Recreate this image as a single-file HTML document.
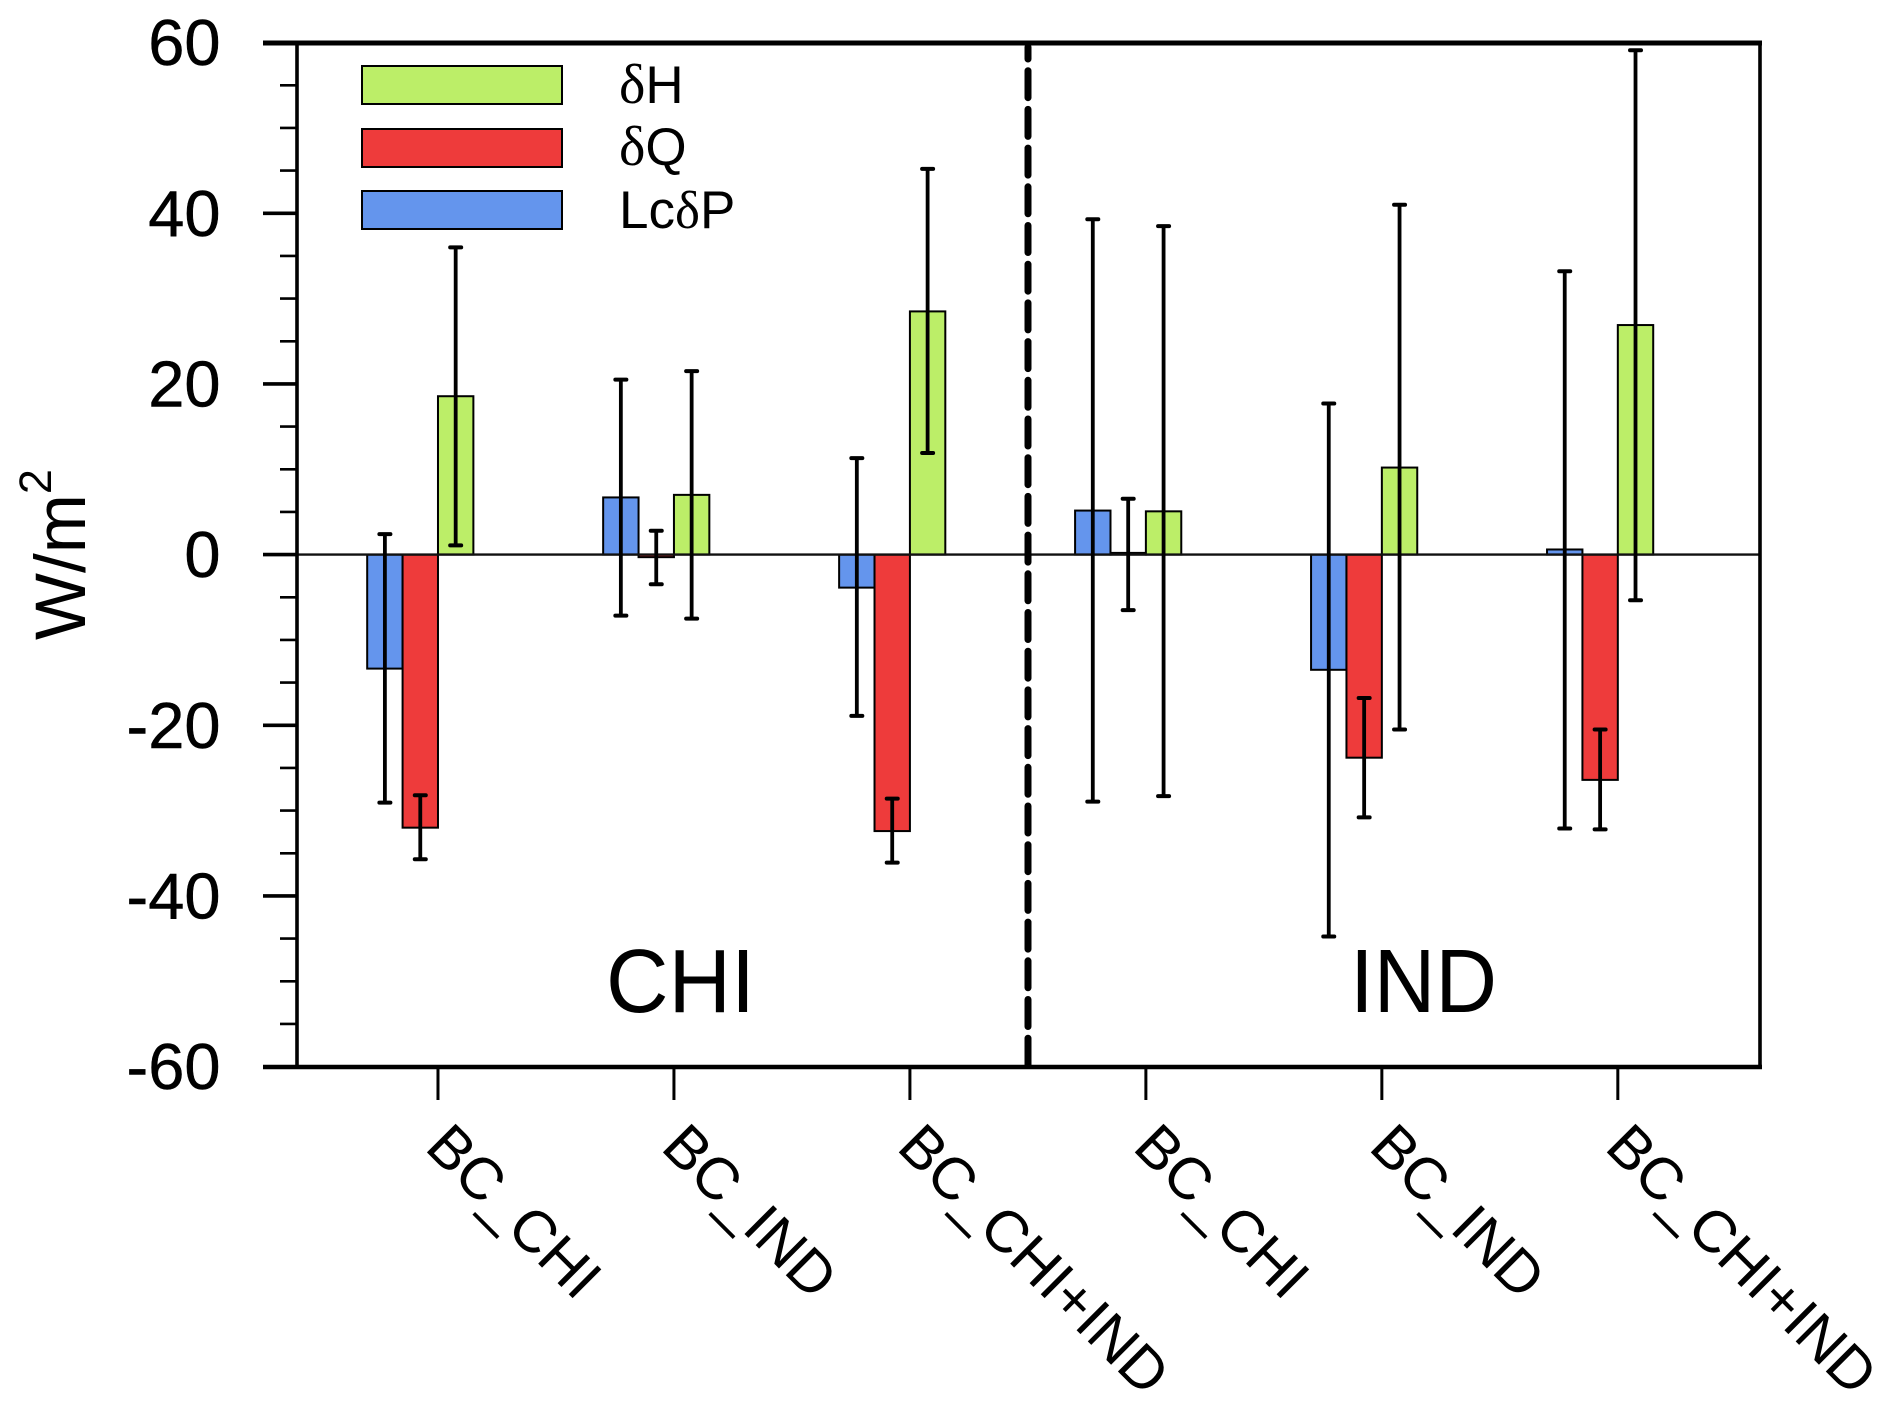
<!DOCTYPE html>
<html lang="en">
<head>
<meta charset="utf-8">
<title>Energy budget bar chart</title>
<style>
html,body{margin:0;padding:0;background:#fff;}
svg{display:block;}
text{font-family:"Liberation Sans",sans-serif;fill:#000;}
.sym{font-family:"Liberation Serif",serif;}
</style>
</head>
<body>
<svg id="chart" xmlns="http://www.w3.org/2000/svg" width="1892" height="1409" viewBox="0 0 1892 1409">
<rect x="0" y="0" width="1892" height="1409" fill="#fff"/>
<g id="bars"></g>
<line x1="297" y1="554.6" x2="1760" y2="554.6" stroke="#111" stroke-width="2.4"/>
<g id="errors"></g>
<g id="axes"></g>
<line x1="1028" y1="47" x2="1028" y2="1065" stroke="#000" stroke-width="7" stroke-dasharray="27 11.7" stroke-dashoffset="15" stroke-linecap="round"/>
<text transform="translate(85,640) rotate(-90)" font-size="71">W/m<tspan font-size="45" dy="-34">2</tspan></text>
<g>
  <rect x="362" y="66" width="200" height="38" fill="#BCEE68" stroke="#000" stroke-width="2"/>
  <rect x="362" y="129" width="200" height="38" fill="#EE3B3B" stroke="#000" stroke-width="2"/>
  <rect x="362" y="191" width="200" height="38" fill="#6495ED" stroke="#000" stroke-width="2"/>
  <text x="619" y="103" font-size="53"><tspan class="sym" font-size="56">δ</tspan>H</text>
  <text x="619" y="165" font-size="53"><tspan class="sym" font-size="56">δ</tspan>Q</text>
  <text x="619" y="228" font-size="53">Lc<tspan class="sym">δ</tspan>P</text>
</g>
<text x="606" y="1012" font-size="90" textLength="149" lengthAdjust="spacingAndGlyphs">CHI</text>
<text x="1350" y="1012" font-size="90" textLength="147" lengthAdjust="spacingAndGlyphs">IND</text>
</svg>
<script>
const categories = ["BC_CHI", "BC_IND", "BC_CHI+IND", "BC_CHI", "BC_IND", "BC_CHI+IND"];
const lcdpValues = [-13.36, 6.7, -3.87, 5.16, -13.5, 0.6];
const dqValues = [-32.0, -0.3, -32.4, 0.2, -23.8, -26.4];
const dhValues = [18.56, 7.0, 28.5, 5.07, 10.2, 26.9];
const lcdpErrHigh = [2.4, 20.5, 11.3, 39.3, 17.7, 33.2];
const lcdpErrLow = [-29.06, -7.15, -18.9, -28.95, -44.75, -32.1];
const dqErrHigh = [-28.2, 2.8, -28.6, 6.55, -16.8, -20.5];
const dqErrLow = [-35.7, -3.48, -36.1, -6.5, -30.8, -32.2];
const dhErrHigh = [36.0, 21.5, 45.2, 38.5, 41.0, 59.1];
const dhErrLow = [1.08, -7.5, 11.9, -28.3, -20.5, -5.35];
const yTickLabels = [60, 40, 20, 0, -20, -40, -60];
const yMinorTicks = [55, 50, 45, 35, 30, 25, 15, 10, 5, -5, -10, -15, -25, -30, -35, -45, -50, -55];

const NS = 'http://www.w3.org/2000/svg';
const plot = { left: 297, right: 1760, top: 43, bottom: 1067 };
const yScale = v => 554.6 - v * (plot.bottom - plot.top) / 120;
const xScale = i => plot.left - 0.6 + (i + 0.6) * (plot.right - plot.left) / 6.2;
const barWidth = 0.15 * (plot.right - plot.left) / 6.2;

function make(tag, parent, attrs) {
  const el = document.createElementNS(NS, tag);
  for (const k in attrs) el.setAttribute(k, attrs[k]);
  parent.appendChild(el);
  return el;
}

const barsG = document.getElementById('bars');
const errG = document.getElementById('errors');
const axesG = document.getElementById('axes');

const series = [
  { key: 'lcdp', vals: lcdpValues, hi: lcdpErrHigh, lo: lcdpErrLow, color: '#6495ED', off: -1.5 },
  { key: 'dq', vals: dqValues, hi: dqErrHigh, lo: dqErrLow, color: '#EE3B3B', off: -0.5 },
  { key: 'dh', vals: dhValues, hi: dhErrHigh, lo: dhErrLow, color: '#BCEE68', off: 0.5 }
];

series.forEach(s => {
  s.vals.forEach((v, i) => {
    const cx = xScale(i) + s.off * barWidth;
    const y0 = yScale(0), y1 = yScale(v);
    const bar = make('rect', barsG, {
      x: cx - barWidth / 2, y: Math.min(y0, y1),
      width: barWidth, height: Math.abs(y1 - y0),
      fill: s.color, stroke: '#000', 'stroke-width': 2
    });
    
    

    const stem = make('line', errG, {
      x1: cx, x2: cx, y1: yScale(s.hi[i]), y2: yScale(s.lo[i]),
      stroke: '#000', 'stroke-width': 3.8
    });
    
    

    [s.hi[i], s.lo[i]].forEach(e => {
      const cap = make('line', errG, {
        x1: cx - 5.5, x2: cx + 5.5, y1: yScale(e), y2: yScale(e),
        stroke: '#000', 'stroke-width': 4, 'stroke-linecap': 'round'
      });
      
      
    });
  });
});

const frameSegments = [
  ['axis-top', 263, plot.top, plot.right + 2, plot.top, 5],
  ['axis-bottom', 263, plot.bottom, plot.right + 2, plot.bottom, 4.5],
  ['axis-left', plot.left, plot.top, plot.left, plot.bottom, 3.6],
  ['axis-right', plot.right, plot.top, plot.right, plot.bottom, 3.6]
];
frameSegments.forEach(f => {
  const ln = make('line', axesG, {
    x1: f[1], y1: f[2], x2: f[3], y2: f[4], stroke: '#000', 'stroke-width': f[5]
  });
  
  
});

yTickLabels.forEach(v => {
  const y = yScale(v);
  if (v !== 60 && v !== -60) {
    const t = make('line', axesG, { x1: 263, x2: plot.left, y1: y, y2: y, stroke: '#000', 'stroke-width': 3.6 });
    
    
  }
  const lab = make('text', axesG, { x: 220.5, y: y + 22.5, 'font-size': 65, 'text-anchor': 'end', stroke: '#000', 'stroke-width': 0.5 });
  lab.textContent = String(v);
  
  
});

yMinorTicks.forEach(v => {
  const y = yScale(v);
  const t = make('line', axesG, { x1: 280, x2: plot.left, y1: y, y2: y, stroke: '#000', 'stroke-width': 2.6 });
  
  
});

categories.forEach((c, i) => {
  const x = xScale(i);
  const t = make('line', axesG, { x1: x, x2: x, y1: plot.bottom, y2: 1100, stroke: '#000', 'stroke-width': 3 });
  
  
  const lab = make('text', axesG, {
    transform: 'translate(' + (x - 14.5) + ',1149) rotate(45)', 'font-size': 59
  });
  lab.textContent = c;
  
  
});
</script>
</body>
</html>
